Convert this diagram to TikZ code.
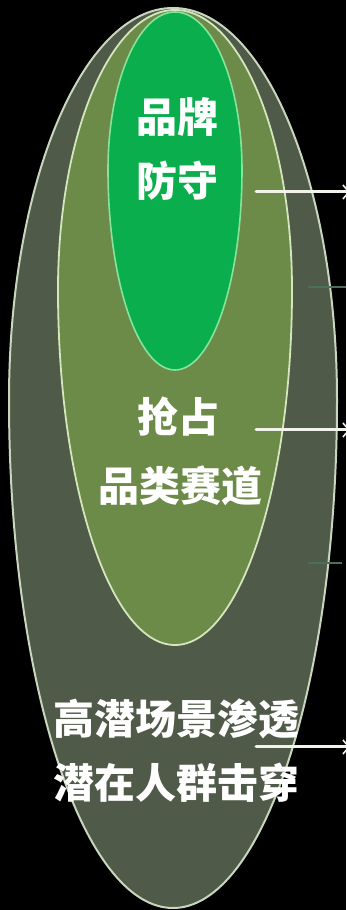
\documentclass[tikz,border=0pt]{standalone}
\usepackage{fontspec}
\newfontfamily\cjk{Noto Sans CJK SC}
\usetikzlibrary{arrows.meta}
\definecolor{outerfill}{HTML}{4F5A48}
\definecolor{midfill}{HTML}{6C8A48}
\definecolor{innerfill}{HTML}{0BAE4C}
\definecolor{outerline}{HTML}{C9D6BE}
\definecolor{midline}{HTML}{D3E6BD}
\definecolor{innerline}{HTML}{86E39A}
\definecolor{tealline}{HTML}{4C6E5C}
\tikzset{
  lbl/.style={text=white, font=\cjk\bfseries\fontsize{41}{41}\selectfont, inner sep=0pt, anchor=base},
  arr/.style={draw={rgb,255:red,242;green,244;blue,236}, line width=3pt, line cap=round,
    -{Straight Barb[length=6pt,width=14pt,line width=1.6pt]}},
  thin/.style={draw=tealline, line width=1.3pt}
}
\begin{document}
\begin{tikzpicture}[x=1pt,y=1pt]
\useasboundingbox (0,0) rectangle (346,910);
\clip (0,0) rectangle (346,910);
\fill[black] (0,0) rectangle (346,910);
% outer egg
\filldraw[fill=outerfill, draw=outerline, line width=2pt]
  (337,510) arc[start angle=0, end angle=180, x radius=164pt, y radius=392pt]
  arc[start angle=180, end angle=360, x radius=164pt, y radius=508pt] -- cycle;
% middle egg
\filldraw[fill=midfill, draw=midline, line width=1.8pt]
  (292,620) arc[start angle=0, end angle=180, x radius=117pt, y radius=280pt]
  arc[start angle=180, end angle=360, x radius=117pt, y radius=355pt] -- cycle;
% inner egg
\filldraw[fill=innerfill, draw=innerline, line width=1.6pt]
  (242,740) arc[start angle=0, end angle=180, x radius=67pt, y radius=158pt]
  arc[start angle=180, end angle=360, x radius=67pt, y radius=200pt] -- cycle;
% texts
\node[lbl] (t1) at (177,777) {品牌};
\node[lbl] (t2) at (177,713.4) {防守};
\node[lbl] (t3) at (178,477) {抢占};
\node[lbl] (t4) at (180,408) {品类赛道};
\node[lbl] (t5) at (176,175) {高潜场景渗透};
\node[lbl] (t6) at (176,111) {潜在人群击穿};
% arrows
\coordinate (a1s) at (256,718);
\coordinate (a1e) at (350,718);
\coordinate (a2s) at (256,480);
\coordinate (a2e) at (350,480);
\coordinate (a3s) at (256,163);
\coordinate (a3e) at (350,163);
\draw[arr] (a1s) -- (a1e);
\draw[arr] (a2s) -- (a2e);
\draw[arr] (a3s) -- (a3e);
% faint teal ticks
\coordinate (l1s) at (308,623);
\coordinate (l1e) at (346,623);
\coordinate (l2s) at (308,347);
\coordinate (l2e) at (342,347);
\draw[thin] (l1s) -- (l1e);
\draw[thin] (l2s) -- (l2e);
\end{tikzpicture}
\end{document}
